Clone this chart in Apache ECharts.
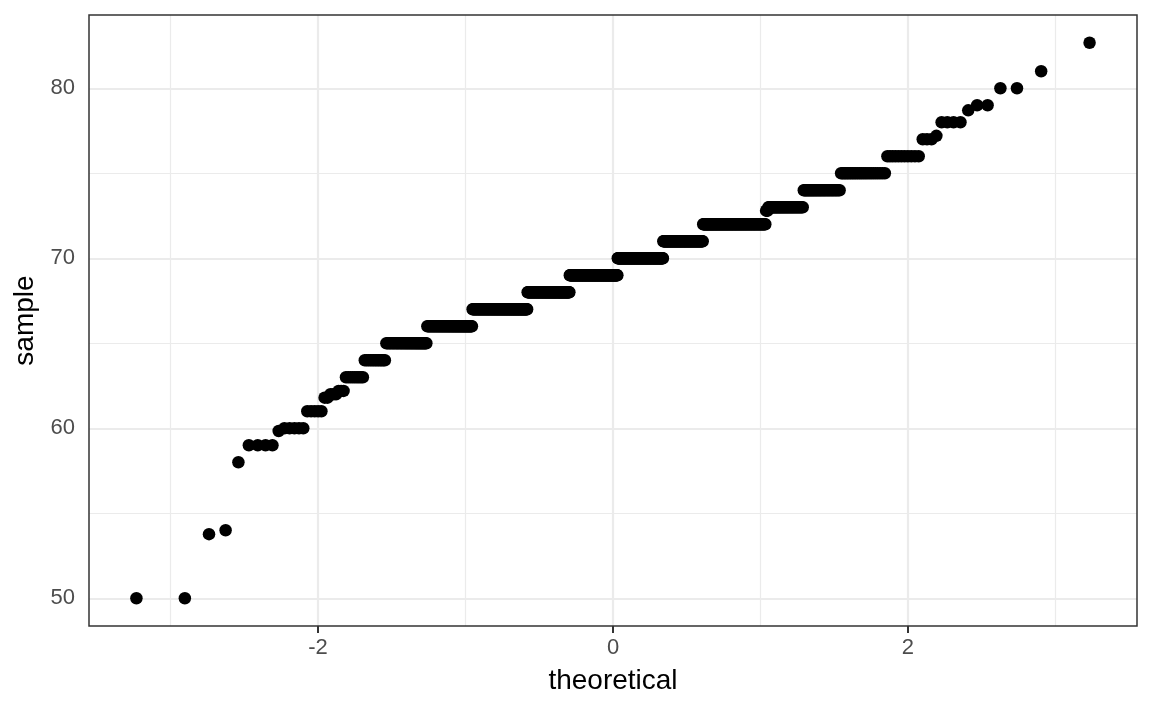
<!DOCTYPE html>
<html>
<head>
<meta charset="utf-8">
<title>QQ plot</title>
<script src="https://cdn.jsdelivr.net/npm/echarts@6/dist/echarts.min.js"></script>
<style>
  html, body { margin:0; padding:0; background:#fff; }
  #chart { width:1152px; height:711px; }
</style>
</head>
<body>
<div id="chart"></div>
<script>
// sorted sample, stored as distinct values and how many times each occurs
const sampleValues = [50, 53.77, 54, 58, 59, 59.84, 60, 61, 61.8, 62, 62.2, 63, 64, 65, 66, 67, 68, 69,
  70, 71, 72, 72.8, 73, 74, 75, 76, 77, 77.2, 78, 78.7, 79, 80, 81, 82.68];
const sampleCounts = [2, 1, 1, 1, 4, 1, 5, 5, 2, 3, 3, 9, 13, 34, 54, 90, 84, 104,
  98, 78, 98, 3, 39, 30, 24, 11, 3, 1, 4, 1, 2, 2, 1, 1];

// axes
const xRange = [-3.553, 3.553];
const yRange = [48.37, 84.31];
const xMajor = [-2, 0, 2];
const xMinor = [-3, -1, 1, 3];
const yMajor = [50, 60, 70, 80];
const yMinor = [55, 65, 75];

// ---------- helpers ----------
// inverse normal cdf (Acklam)
function qnorm(p){
  const a = [-3.969683028665376e+01, 2.209460984245205e+02, -2.759285104469687e+02, 1.383577518672690e+02, -3.066479806614716e+01, 2.506628277459239e+00];
  const b = [-5.447609879822406e+01, 1.615858368580409e+02, -1.556989798598866e+02, 6.680131188771972e+01, -1.328068155288572e+01];
  const c = [-7.784894002430293e-03, -3.223964580411365e-01, -2.400758277161838e+00, -2.549732539343734e+00, 4.374664141464968e+00, 2.938163982698783e+00];
  const d = [7.784695709041462e-03, 3.224671290700398e-01, 2.445134137142996e+00, 3.754408661907416e+00];
  const lo = 0.02425, hi = 1 - lo;
  let q, r;
  if(p < lo){
    q = Math.sqrt(-2*Math.log(p));
    return (((((c[0]*q+c[1])*q+c[2])*q+c[3])*q+c[4])*q+c[5]) / ((((d[0]*q+d[1])*q+d[2])*q+d[3])*q+1);
  }
  if(p > hi){
    q = Math.sqrt(-2*Math.log(1-p));
    return -(((((c[0]*q+c[1])*q+c[2])*q+c[3])*q+c[4])*q+c[5]) / ((((d[0]*q+d[1])*q+d[2])*q+d[3])*q+1);
  }
  q = p - 0.5; r = q*q;
  return (((((a[0]*r+a[1])*r+a[2])*r+a[3])*r+a[4])*r+a[5])*q / (((((b[0]*r+b[1])*r+b[2])*r+b[3])*r+b[4])*r+1);
}

// expand the sample and pair with theoretical quantiles, like stat_qq
const sample = sampleValues.flatMap((v, k) => Array(sampleCounts[k]).fill(v));
const n = sample.length;
const points = sample.map((v, i) => [qnorm((i + 0.5) / n), v]);

const GRID = '#ebebeb';
const font = 'Liberation Sans, Arial, Helvetica, sans-serif';

const gridLines = [
  ...xMinor.map(v => ({ xAxis: v, lineStyle: { width: 1.2 } })),
  ...yMinor.map(v => ({ yAxis: v, lineStyle: { width: 1.2 } })),
  ...xMajor.map(v => ({ xAxis: v, lineStyle: { width: 2.2 } })),
  ...yMajor.map(v => ({ yAxis: v, lineStyle: { width: 2.2 } }))
];

const chart = echarts.init(document.getElementById('chart'), null, { renderer: 'canvas' });
chart.setOption({
  animation: false,
  backgroundColor: '#fff',
  textStyle: { fontFamily: font },
  grid: { left: 89, right: 15, top: 15, bottom: 85, show: true, borderColor: '#333', borderWidth: 1.5, backgroundColor: 'transparent', z: 5 },
  xAxis: {
    type: 'value', min: xRange[0], max: xRange[1],
    name: 'theoretical', nameLocation: 'middle', nameGap: 41,
    nameTextStyle: { fontSize: 28, color: '#000', fontFamily: font },
    axisLine: { show: false },
    axisTick: { show: true, customValues: xMajor, length: 7, lineStyle: { color: '#333', width: 2 } },
    axisLabel: { customValues: xMajor, fontSize: 22, color: '#4d4d4d', margin: 11, fontFamily: font },
    splitLine: { show: false }
  },
  yAxis: {
    type: 'value', min: yRange[0], max: yRange[1],
    name: 'sample', nameLocation: 'middle', nameGap: 50, nameRotate: 90,
    nameTextStyle: { fontSize: 28, color: '#000', fontFamily: font },
    axisLine: { show: false },
    axisTick: { show: true, customValues: yMajor, length: 7, lineStyle: { color: '#333', width: 2 } },
    axisLabel: { customValues: yMajor, fontSize: 22, color: '#4d4d4d', margin: 14, fontFamily: font },
    splitLine: { show: false }
  },
  series: [
    {
      type: 'scatter', data: [], z: 1, silent: true,
      markLine: {
        silent: true, symbol: 'none', animation: false, z: 1,
        label: { show: false },
        lineStyle: { color: GRID, type: 'solid' },
        data: gridLines
      }
    },
    {
      type: 'scatter', data: points, z: 3,
      symbol: 'circle', symbolSize: 12.5,
      itemStyle: { color: '#000', opacity: 1 }
    }
  ]
});
</script>
</body>
</html>
